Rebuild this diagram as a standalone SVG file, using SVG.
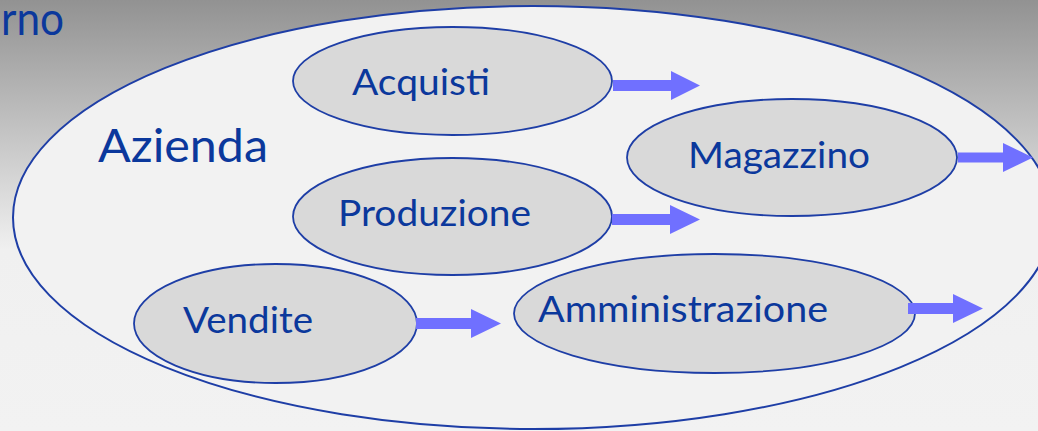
<svg xmlns="http://www.w3.org/2000/svg" width="1038" height="431" viewBox="0 0 1038 431">
  <defs>
    <linearGradient id="bg" x1="0" y1="0" x2="0" y2="1">
      <stop offset="0" stop-color="#929292"/>
      <stop offset="0.58" stop-color="#f0f0f0"/>
      <stop offset="1" stop-color="#f2f2f2"/>
    </linearGradient>
  </defs>
  <style>
    .txt { font-family: Lato, "Open Sans", "Liberation Sans", sans-serif; fill: #0b389c; }
    .big { stroke: #1e3ea6; stroke-width: 2; fill: #f2f2f2; }
    .node ellipse { stroke: #1e3ea6; stroke-width: 1.8; fill: #d9d9d9; }
    .node text { font-size: 37px; }
    .arrow { fill: #7070ff; }
  </style>
  <rect x="0" y="0" width="1038" height="431" fill="url(#bg)"/>
  <text class="txt" x="1" y="35" font-size="47" textLength="63" lengthAdjust="spacingAndGlyphs">rno</text>

  <g id="azienda">
    <ellipse class="big" cx="533" cy="217.5" rx="520" ry="211.5"/>
    <text class="txt" x="98" y="162" font-size="47" textLength="170" lengthAdjust="spacingAndGlyphs">Azienda</text>
  </g>

  <g id="acquisti" class="node">
    <ellipse cx="452.5" cy="81" rx="159.5" ry="54"/>
    <text class="txt" x="352" y="95" textLength="138" lengthAdjust="spacingAndGlyphs">Acquisti</text>
  </g>
  <g id="magazzino" class="node">
    <ellipse cx="792" cy="157.5" rx="165" ry="58.5"/>
    <text class="txt" x="688" y="168" textLength="182" lengthAdjust="spacingAndGlyphs">Magazzino</text>
  </g>
  <g id="produzione" class="node">
    <ellipse cx="452.5" cy="216.5" rx="159.5" ry="58.5"/>
    <text class="txt" x="338" y="226" textLength="193" lengthAdjust="spacingAndGlyphs">Produzione</text>
  </g>
  <g id="vendite" class="node">
    <ellipse cx="275.5" cy="323.5" rx="141.5" ry="59.5"/>
    <text class="txt" x="183" y="333" textLength="130" lengthAdjust="spacingAndGlyphs">Vendite</text>
  </g>
  <g id="amministrazione" class="node">
    <ellipse cx="714.5" cy="313.5" rx="200.5" ry="59.5"/>
    <text class="txt" x="538" y="322" textLength="290" lengthAdjust="spacingAndGlyphs">Amministrazione</text>
  </g>

  <g id="connectors">
    <polygon class="arrow" points="613,80 671,80 671,71 700,85.5 671,100 671,91 613,91"/>
    <polygon class="arrow" points="612,214 670,214 670,205 700,219.5 670,234 670,225 612,225"/>
    <polygon class="arrow" points="958,152.5 1003,152.5 1003,143 1033,157.5 1003,172 1003,162.5 958,162.5"/>
    <polygon class="arrow" points="908,303 953,303 953,294 983,308.5 953,323 953,314 908,314"/>
    <polygon class="arrow" points="416,318 471,318 471,309 501,323.5 471,338 471,329 416,329"/>
  </g>
</svg>
